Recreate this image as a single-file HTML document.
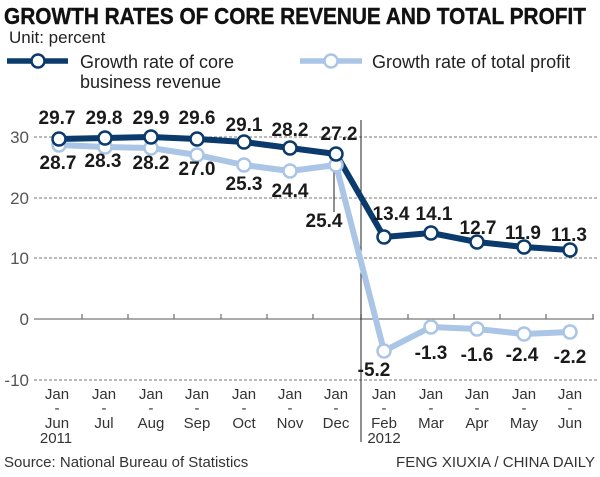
<!DOCTYPE html>
<html><head><meta charset="utf-8"><style>
html,body{margin:0;padding:0;background:#fff;}
svg{display:block;}
text{font-family:"Liberation Sans",sans-serif;}
.b{font-weight:bold;font-size:19px;fill:#1a1a1a;text-anchor:middle;}
.ax{font-size:15px;fill:#333;text-anchor:middle;}
.yl{font-size:17px;fill:#555;text-anchor:end;}
</style></head><body>
<svg width="600" height="477" viewBox="0 0 600 477" xmlns="http://www.w3.org/2000/svg">
<text x="4" y="24" font-weight="bold" font-size="23" textLength="582" lengthAdjust="spacingAndGlyphs" fill="#111" stroke="#111" stroke-width="0.4">GROWTH RATES OF CORE REVENUE AND TOTAL PROFIT</text>
<text x="9" y="43" font-size="17" fill="#222">Unit: percent</text>
<line x1="7" y1="61" x2="68" y2="61" stroke="#0b3a6c" stroke-width="5.5"/>
<circle cx="38" cy="61" r="6.5" fill="#fff" stroke="#0b3a6c" stroke-width="2.5"/>
<text x="80" y="68" font-size="18" fill="#222">Growth rate of core</text>
<text x="80" y="88" font-size="18" fill="#222">business revenue</text>
<line x1="300" y1="61" x2="362" y2="61" stroke="#aac5e6" stroke-width="5.5"/>
<circle cx="331" cy="61" r="6.5" fill="#fff" stroke="#aac5e6" stroke-width="2.5"/>
<text x="372" y="68" font-size="18" fill="#222">Growth rate of total profit</text>

<g stroke="#777" stroke-width="1" stroke-dasharray="3,2">
<line x1="34" y1="137" x2="598" y2="137"/>
<line x1="34" y1="198" x2="598" y2="198"/>
<line x1="34" y1="258" x2="598" y2="258"/>
<line x1="34" y1="380" x2="598" y2="380"/>
</g>
<line x1="34" y1="319" x2="594" y2="319" stroke="#777" stroke-width="1.3"/>
<g stroke="#777" stroke-width="1.3">
<line x1="82" y1="314" x2="82" y2="319"/><line x1="128" y1="314" x2="128" y2="319"/><line x1="174" y1="314" x2="174" y2="319"/><line x1="221" y1="314" x2="221" y2="319"/><line x1="267" y1="314" x2="267" y2="319"/><line x1="313" y1="314" x2="313" y2="319"/><line x1="361" y1="314" x2="361" y2="319"/><line x1="408" y1="314" x2="408" y2="319"/><line x1="454" y1="314" x2="454" y2="319"/><line x1="500" y1="314" x2="500" y2="319"/><line x1="546" y1="314" x2="546" y2="319"/><line x1="593" y1="314" x2="593" y2="319"/>
</g>
<text class="yl" x="29" y="143">30</text>
<text class="yl" x="29" y="204">20</text>
<text class="yl" x="29" y="264">10</text>
<text class="yl" x="29" y="325">0</text>
<text class="yl" x="29" y="386">-10</text>
<line x1="361" y1="120" x2="361" y2="442" stroke="#222" stroke-width="1"/>
<line x1="334" y1="170" x2="334" y2="212" stroke="#222" stroke-width="1"/>

<polyline fill="none" stroke="#aac5e6" stroke-width="6" stroke-linejoin="round" points="59,145 105,147 151,148 197,155 244,165 290,171 336,165 384,351 431,327 477,329 524,334 570,332"/>
<polyline fill="none" stroke="#0b3a6c" stroke-width="6" stroke-linejoin="round" points="59,139 105,138 151,137 197,139 244,142 290,148 336,154 384,237 431,233 477,242 524,247 570,250"/>
<g fill="#fff" stroke="#aac5e6" stroke-width="2.5">
<circle cx="59" cy="145" r="6.5"/><circle cx="105" cy="147" r="6.5"/><circle cx="151" cy="148" r="6.5"/><circle cx="197" cy="155" r="6.5"/><circle cx="244" cy="165" r="6.5"/><circle cx="290" cy="171" r="6.5"/><circle cx="336" cy="165" r="6.5"/><circle cx="384" cy="351" r="6.5"/><circle cx="431" cy="327" r="6.5"/><circle cx="477" cy="329" r="6.5"/><circle cx="524" cy="334" r="6.5"/><circle cx="570" cy="332" r="6.5"/>
</g>
<g fill="#fff" stroke="#0b3a6c" stroke-width="2.5">
<circle cx="59" cy="139" r="6.5"/><circle cx="105" cy="138" r="6.5"/><circle cx="151" cy="137" r="6.5"/><circle cx="197" cy="139" r="6.5"/><circle cx="244" cy="142" r="6.5"/><circle cx="290" cy="148" r="6.5"/><circle cx="336" cy="154" r="6.5"/><circle cx="384" cy="237" r="6.5"/><circle cx="431" cy="233" r="6.5"/><circle cx="477" cy="242" r="6.5"/><circle cx="524" cy="247" r="6.5"/><circle cx="570" cy="250" r="6.5"/>
</g>

<text class="b" x="57" y="124">29.7</text><text class="b" x="104" y="124">29.8</text><text class="b" x="151" y="124">29.9</text><text class="b" x="197" y="124">29.6</text><text class="b" x="244" y="131">29.1</text><text class="b" x="290" y="136">28.2</text><text class="b" x="339" y="140">27.2</text>
<text class="b" x="58" y="169">28.7</text><text class="b" x="103" y="167">28.3</text><text class="b" x="151" y="169">28.2</text><text class="b" x="197" y="175">27.0</text><text class="b" x="244" y="190">25.3</text><text class="b" x="290" y="197">24.4</text><text class="b" x="324" y="227">25.4</text>
<text class="b" x="391" y="220">13.4</text><text class="b" x="434" y="220">14.1</text><text class="b" x="478" y="234">12.7</text><text class="b" x="523" y="239">11.9</text><text class="b" x="569" y="241">11.3</text>
<text class="b" x="374" y="376">-5.2</text><text class="b" x="431" y="359">-1.3</text><text class="b" x="477" y="361">-1.6</text><text class="b" x="522" y="361">-2.4</text><text class="b" x="570" y="363">-2.2</text>

<text class="ax" x="57" y="399">Jan</text><text class="ax" x="104" y="399">Jan</text><text class="ax" x="151" y="399">Jan</text><text class="ax" x="197" y="399">Jan</text><text class="ax" x="244" y="399">Jan</text><text class="ax" x="290" y="399">Jan</text><text class="ax" x="336" y="399">Jan</text><text class="ax" x="384" y="399">Jan</text><text class="ax" x="431" y="399">Jan</text><text class="ax" x="477" y="399">Jan</text><text class="ax" x="524" y="399">Jan</text><text class="ax" x="570" y="399">Jan</text>
<text class="ax" x="57" y="413">-</text><text class="ax" x="104" y="413">-</text><text class="ax" x="151" y="413">-</text><text class="ax" x="197" y="413">-</text><text class="ax" x="244" y="413">-</text><text class="ax" x="290" y="413">-</text><text class="ax" x="336" y="413">-</text><text class="ax" x="384" y="413">-</text><text class="ax" x="431" y="413">-</text><text class="ax" x="477" y="413">-</text><text class="ax" x="524" y="413">-</text><text class="ax" x="570" y="413">-</text>
<text class="ax" x="57" y="428">Jun</text><text class="ax" x="104" y="428">Jul</text><text class="ax" x="151" y="428">Aug</text><text class="ax" x="197" y="428">Sep</text><text class="ax" x="244" y="428">Oct</text><text class="ax" x="290" y="428">Nov</text><text class="ax" x="336" y="428">Dec</text><text class="ax" x="384" y="428">Feb</text><text class="ax" x="431" y="428">Mar</text><text class="ax" x="477" y="428">Apr</text><text class="ax" x="524" y="428">May</text><text class="ax" x="570" y="428">Jun</text>
<text class="ax" x="56" y="443">2011</text><text class="ax" x="384" y="443">2012</text>
<text x="4" y="467" font-size="15" fill="#333">Source: National Bureau of Statistics</text>
<text x="595" y="467" font-size="15" fill="#333" text-anchor="end">FENG XIUXIA / CHINA DAILY</text>
</svg>
</body></html>
